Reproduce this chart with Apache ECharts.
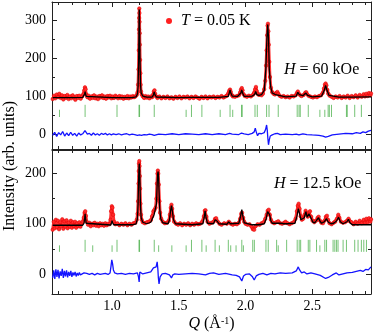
<!DOCTYPE html>
<html>
<head>
    <meta charset="utf-8">
    <title>ECharts</title>
    <script src="https://cdn.jsdelivr.net/npm/echarts@6/dist/echarts.min.js"></script>
    <style type="text/css">
        html, body { margin: 0; padding: 0; background: #fff; }
        #main { width: 374px; height: 333px; }
    </style>
</head>
<body>
<div id="main"></div>
<script type="text/javascript">
    // axis ranges and ticks
    var qMin = 0.55, qMax = 2.94;
    var xMajor = [1.0, 1.5, 2.0, 2.5];
    var xMinor = [0.6, 0.7, 0.8, 0.9, 1.1, 1.2, 1.3, 1.4, 1.6, 1.7, 1.8, 1.9, 2.1, 2.2, 2.3, 2.4, 2.6, 2.7, 2.8, 2.9];
    var yMajorTop = [0, 100, 200, 300];
    var yMinorTop = [50, 150, 250];
    var yMajorBot = [0, 100, 200];
    var yMinorBot = [50, 150];

    // H = 60 kOe : observed, calculated, difference
    var obsTop = [[0.555,92],[0.565,101],[0.575,94],[0.585,104],[0.595,97],[0.605,106],[0.615,95],[0.625,102],[0.635,91],[0.645,100],[0.655,95],[0.665,103],[0.675,92],[0.685,99],[0.695,94],[0.705,102],[0.715,96],[0.725,90],[0.735,100],[0.745,95],[0.755,101],[0.765,93],[0.775,99],[0.785,104],[0.792,115],[0.797,123],[0.802,118],[0.808,104],[0.815,97],[0.825,101],[0.835,93],[0.845,99],[0.855,95],[0.865,102],[0.875,94],[0.885,99],[0.895,92],[0.905,100],[0.915,96],[0.925,102],[0.935,95],[0.945,99],[0.955,93],[0.965,100],[0.975,96],[0.985,101],[0.995,94],[1.005,99],[1.015,95],[1.025,101],[1.035,98],[1.045,94],[1.055,100],[1.065,95],[1.075,99],[1.085,93],[1.095,98],[1.105,95],[1.115,100],[1.125,94],[1.135,99],[1.145,96],[1.155,100],[1.165,97],[1.175,99],[1.185,103],[1.191,110],[1.195,130],[1.198,170],[1.2,220],[1.202,275],[1.203,305],[1.204,330],[1.205,318],[1.206,295],[1.207,265],[1.208,235],[1.21,195],[1.212,160],[1.214,130],[1.217,112],[1.222,104],[1.23,99],[1.24,95],[1.25,100],[1.26,96],[1.27,99],[1.28,94],[1.29,99],[1.3,97],[1.308,104],[1.313,112],[1.318,115],[1.323,106],[1.33,99],[1.34,95],[1.355,99],[1.37,94],[1.385,98],[1.4,95],[1.415,99],[1.43,94],[1.445,97],[1.46,93],[1.475,98],[1.49,95],[1.505,99],[1.52,94],[1.535,98],[1.55,96],[1.565,99],[1.58,94],[1.595,98],[1.61,95],[1.625,99],[1.64,96],[1.655,93],[1.67,98],[1.685,95],[1.7,99],[1.715,94],[1.73,98],[1.745,96],[1.76,99],[1.775,95],[1.79,98],[1.805,96],[1.82,100],[1.835,96],[1.85,99],[1.862,101],[1.872,108],[1.878,114],[1.884,117],[1.89,111],[1.897,103],[1.905,99],[1.92,98],[1.935,100],[1.95,102],[1.96,110],[1.966,117],[1.972,121],[1.978,115],[1.985,105],[1.995,100],[2.01,98],[2.025,101],[2.04,99],[2.055,103],[2.065,108],[2.072,118],[2.078,124],[2.084,113],[2.09,106],[2.1,103],[2.11,104],[2.12,102],[2.13,106],[2.14,118],[2.148,140],[2.154,180],[2.158,220],[2.162,260],[2.165,285],[2.168,290],[2.171,270],[2.174,235],[2.178,190],[2.183,150],[2.19,122],[2.2,110],[2.21,106],[2.22,104],[2.23,108],[2.238,111],[2.245,106],[2.255,101],[2.27,98],[2.285,100],[2.3,97],[2.315,99],[2.33,96],[2.345,100],[2.36,99],[2.375,102],[2.385,108],[2.392,112],[2.4,106],[2.41,102],[2.42,100],[2.435,103],[2.448,109],[2.455,110],[2.463,104],[2.475,100],[2.49,98],[2.505,96],[2.52,99],[2.535,97],[2.55,100],[2.565,102],[2.578,108],[2.588,120],[2.595,130],[2.6,133],[2.606,128],[2.613,116],[2.62,106],[2.63,101],[2.645,98],[2.66,95],[2.675,99],[2.69,96],[2.705,100],[2.72,95],[2.735,99],[2.75,96],[2.765,101],[2.78,95],[2.795,100],[2.81,97],[2.825,102],[2.84,96],[2.855,103],[2.87,98],[2.885,105],[2.895,99],[2.905,106],[2.915,100],[2.925,108],[2.935,102],[2.94,107]];
    var calcTop = [[0.555,96],[0.7,96],[0.78,96.5],[0.79,99],[0.795,106],[0.798,112],[0.801,106],[0.806,99],[0.815,96.5],[1.0,96],[1.03,96],[1.037,97],[1.045,96],[1.15,96],[1.18,98],[1.19,105],[1.195,125],[1.199,190],[1.202,280],[1.204,327],[1.206,290],[1.209,200],[1.213,130],[1.218,108],[1.23,100],[1.26,97],[1.3,97],[1.31,103],[1.316,111],[1.322,103],[1.332,97.5],[1.5,96],[1.59,96.5],[1.67,96.5],[1.8,96.5],[1.87,99],[1.878,108],[1.884,116],[1.89,108],[1.9,100],[1.94,99],[1.965,108],[1.972,116],[1.979,107],[1.99,99],[2.05,100],[2.068,104],[2.076,112],[2.084,104],[2.1,102],[2.12,104],[2.14,115],[2.152,170],[2.16,250],[2.166,288],[2.172,255],[2.178,170],[2.188,125],[2.2,108],[2.225,104],[2.238,107],[2.25,102],[2.3,98],[2.38,100],[2.392,110],[2.402,104],[2.43,101],[2.452,108],[2.465,102],[2.5,98],[2.57,100],[2.59,115],[2.6,128],[2.61,115],[2.625,102],[2.7,97],[2.8,97],[2.94,98]];
    var diffTop = [[0.555,-3],[0.57,5],[0.585,-6],[0.6,4],[0.615,-2],[0.63,7],[0.645,-5],[0.66,3],[0.675,-4],[0.69,5],[0.705,-3],[0.72,2],[0.735,-5],[0.75,3],[0.765,-2],[0.78,1],[0.79,4],[0.797,9],[0.805,5],[0.815,0],[0.83,2],[0.845,-3],[0.86,3],[0.875,-2],[0.89,1],[0.905,-3],[0.92,2],[0.935,-1],[0.95,2],[0.965,-2],[0.98,1],[0.995,-2],[1.01,1],[1.03,-1],[1.05,1],[1.07,-2],[1.09,0],[1.11,1],[1.13,-2],[1.15,0],[1.17,-1],[1.19,-3],[1.2,-5],[1.205,-2],[1.21,-6],[1.22,-3],[1.24,-1],[1.26,-2],[1.28,0],[1.3,-1],[1.316,-3],[1.33,-1],[1.35,0],[1.4,-1],[1.45,1],[1.5,-1],[1.55,1],[1.6,0],[1.65,-1],[1.7,1],[1.75,-1],[1.8,1],[1.85,-1],[1.88,2],[1.9,0],[1.95,-1],[1.97,3],[1.99,1],[2.02,-1],[2.05,2],[2.065,6],[2.073,16],[2.08,6],[2.09,-4],[2.1,2],[2.12,1],[2.14,4],[2.15,12],[2.158,24],[2.163,10],[2.167,-10],[2.172,-28],[2.178,-15],[2.185,-5],[2.2,-2],[2.22,1],[2.24,2],[2.26,-1],[2.3,0],[2.35,-1],[2.38,0],[2.4,-2],[2.43,1],[2.46,-1],[2.5,-2],[2.55,-3],[2.58,-5],[2.6,-8],[2.62,-6],[2.65,-2],[2.7,0],[2.75,2],[2.8,1],[2.83,4],[2.86,2],[2.88,6],[2.9,4],[2.92,8],[2.94,10]];
    var braggTopLong = [0.798,1.037,1.202,1.206,1.316,1.595,1.673,1.884,1.97,1.975,2.071,2.088,2.158,2.176,2.245,2.387,2.401,2.41,2.47,2.619,2.628,2.644,2.756,2.762,2.818,2.868];
    var braggTopShort = [0.606,1.555,1.81,1.904,2.557,2.594];

    // H = 12.5 kOe : observed, calculated, difference
    var obsBot = [[0.555,88],[0.563,104],[0.571,91],[0.579,108],[0.587,93],[0.595,106],[0.603,89],[0.611,103],[0.619,95],[0.627,109],[0.635,90],[0.643,105],[0.651,94],[0.659,107],[0.667,91],[0.675,102],[0.683,94],[0.691,106],[0.699,92],[0.707,103],[0.715,95],[0.723,104],[0.731,92],[0.739,101],[0.747,95],[0.755,103],[0.763,94],[0.771,100],[0.78,104],[0.788,112],[0.794,122],[0.799,125],[0.804,116],[0.81,104],[0.82,98],[0.83,102],[0.84,95],[0.85,100],[0.86,97],[0.87,102],[0.88,96],[0.89,100],[0.9,95],[0.91,101],[0.92,97],[0.93,100],[0.94,96],[0.95,101],[0.96,97],[0.97,100],[0.98,99],[0.988,108],[0.993,125],[0.998,135],[1.003,132],[1.008,118],[1.015,104],[1.025,99],[1.04,101],[1.055,97],[1.07,100],[1.085,98],[1.1,101],[1.115,97],[1.13,100],[1.145,98],[1.16,101],[1.175,102],[1.185,108],[1.191,120],[1.195,145],[1.198,180],[1.2,205],[1.202,220],[1.204,225],[1.206,215],[1.208,195],[1.21,170],[1.213,140],[1.217,118],[1.222,108],[1.23,103],[1.245,101],[1.26,103],[1.275,104],[1.29,107],[1.3,115],[1.31,125],[1.318,128],[1.326,132],[1.332,150],[1.336,180],[1.34,200],[1.343,206],[1.346,200],[1.35,178],[1.355,145],[1.36,122],[1.368,110],[1.38,104],[1.395,101],[1.41,102],[1.425,106],[1.433,118],[1.44,132],[1.445,138],[1.45,130],[1.456,115],[1.465,104],[1.48,100],[1.495,98],[1.51,101],[1.525,97],[1.54,100],[1.555,98],[1.57,101],[1.585,97],[1.6,100],[1.615,98],[1.63,101],[1.645,99],[1.66,100],[1.675,104],[1.688,115],[1.695,126],[1.7,127],[1.707,114],[1.715,104],[1.73,100],[1.745,102],[1.76,104],[1.772,110],[1.78,111],[1.79,105],[1.805,100],[1.82,98],[1.84,101],[1.86,100],[1.875,104],[1.89,100],[1.905,98],[1.92,100],[1.935,99],[1.95,102],[1.96,110],[1.968,120],[1.974,122],[1.982,112],[1.99,104],[2.0,100],[2.015,98],[2.03,99],[2.045,94],[2.055,89],[2.065,88],[2.075,95],[2.09,99],[2.105,98],[2.12,101],[2.135,103],[2.148,110],[2.158,118],[2.166,126],[2.174,128],[2.182,118],[2.19,108],[2.2,103],[2.215,101],[2.23,103],[2.245,105],[2.26,101],[2.275,100],[2.29,102],[2.3,104],[2.315,101],[2.33,99],[2.345,101],[2.36,103],[2.375,110],[2.385,125],[2.392,136],[2.398,140],[2.405,130],[2.413,115],[2.422,108],[2.432,110],[2.442,118],[2.45,126],[2.458,120],[2.466,114],[2.475,122],[2.483,125],[2.492,114],[2.502,106],[2.515,103],[2.528,106],[2.54,112],[2.548,114],[2.556,107],[2.568,102],[2.58,101],[2.592,106],[2.602,114],[2.61,116],[2.618,108],[2.63,101],[2.645,99],[2.66,102],[2.672,104],[2.685,110],[2.695,118],[2.703,112],[2.715,104],[2.73,102],[2.745,103],[2.76,106],[2.772,110],[2.782,105],[2.795,103],[2.81,99],[2.825,104],[2.84,100],[2.855,106],[2.87,101],[2.885,108],[2.895,102],[2.905,110],[2.915,103],[2.925,111],[2.935,104],[2.94,109]];
    var calcBot = [[0.555,97],[0.78,97],[0.79,101],[0.795,112],[0.798,120],[0.801,112],[0.806,101],[0.815,97.5],[0.99,97.5],[0.996,102],[1.0,106],[1.004,102],[1.012,98],[1.15,98],[1.18,100],[1.19,110],[1.195,140],[1.199,190],[1.202,212],[1.204,220],[1.206,212],[1.209,180],[1.213,135],[1.218,112],[1.23,103],[1.26,100],[1.29,103],[1.305,112],[1.315,118],[1.325,120],[1.333,140],[1.338,180],[1.342,200],[1.345,204],[1.348,195],[1.352,165],[1.357,130],[1.365,110],[1.38,102],[1.42,100],[1.43,108],[1.438,125],[1.445,136],[1.452,125],[1.46,108],[1.475,100],[1.6,98],[1.68,100],[1.69,112],[1.697,126],[1.704,112],[1.715,101],[1.76,100],[1.772,108],[1.78,111],[1.788,105],[1.8,100],[1.86,99],[1.875,104],[1.885,100],[1.95,101],[1.963,115],[1.972,128],[1.98,115],[1.99,102],[2.05,98],[2.1,98],[2.14,100],[2.155,110],[2.165,124],[2.172,127],[2.18,118],[2.19,106],[2.2,101],[2.24,101],[2.25,104],[2.26,101],[2.29,100],[2.3,103],[2.31,100],[2.37,101],[2.385,115],[2.396,130],[2.405,120],[2.415,108],[2.425,106],[2.44,112],[2.452,124],[2.462,113],[2.475,120],[2.484,122],[2.493,110],[2.505,103],[2.52,102],[2.535,108],[2.547,112],[2.558,105],[2.57,101],[2.59,104],[2.607,110],[2.62,103],[2.64,100],[2.66,101],[2.68,105],[2.697,113],[2.71,104],[2.73,100],[2.76,104],[2.771,109],[2.782,102],[2.8,98],[2.94,98]];
    var diffBot = [[0.555,-8],[0.563,7],[0.571,-10],[0.579,9],[0.587,-6],[0.595,8],[0.603,-9],[0.611,5],[0.619,-4],[0.627,10],[0.635,-8],[0.643,6],[0.651,-5],[0.659,7],[0.667,-7],[0.675,4],[0.683,-4],[0.691,6],[0.699,-6],[0.707,3],[0.715,-3],[0.723,4],[0.731,-5],[0.739,2],[0.747,-3],[0.755,3],[0.763,-2],[0.775,1],[0.79,2],[0.8,5],[0.81,1],[0.83,-1],[0.85,1],[0.87,-2],[0.89,1],[0.91,-1],[0.93,0],[0.95,1],[0.97,-1],[0.985,2],[0.992,15],[0.998,28],[1.004,20],[1.01,8],[1.02,2],[1.04,0],[1.07,1],[1.1,-1],[1.13,1],[1.16,0],[1.19,2],[1.198,-6],[1.203,-16],[1.208,4],[1.215,2],[1.23,0],[1.26,2],[1.29,4],[1.31,12],[1.32,9],[1.33,14],[1.338,24],[1.343,10],[1.347,-8],[1.352,-20],[1.36,-6],[1.375,0],[1.4,1],[1.43,-2],[1.445,-8],[1.455,-2],[1.47,0],[1.5,-1],[1.55,0],[1.6,1],[1.65,0],[1.7,-2],[1.73,1],[1.76,2],[1.8,-1],[1.85,1],[1.9,-2],[1.93,-3],[1.955,-6],[1.972,-14],[1.985,-4],[2.0,-1],[2.03,0],[2.05,-5],[2.065,-12],[2.08,-4],[2.1,-1],[2.13,1],[2.16,-2],[2.19,1],[2.22,0],[2.26,2],[2.3,1],[2.35,2],[2.38,6],[2.395,14],[2.405,8],[2.42,2],[2.44,4],[2.46,0],[2.49,2],[2.52,0],[2.56,-3],[2.6,-9],[2.62,-7],[2.65,-2],[2.68,2],[2.7,-2],[2.73,0],[2.76,2],[2.8,3],[2.83,5],[2.86,7],[2.88,5],[2.9,9],[2.92,8],[2.94,14]];
    var braggBotLong = [0.798,1.037,1.202,1.206,1.316,1.595,1.673,1.772,1.871,1.972,2.054,2.066,2.153,2.17,2.233,2.308,2.387,2.402,2.413,2.47,2.482,2.532,2.594,2.607,2.656,2.669,2.682,2.693,2.731,2.756,2.818,2.843,2.868,2.886,2.906];
    var braggBotShort = [0.606,0.855,1.0,1.349,1.448,1.555,1.705,1.804,1.889,1.929,1.984,2.245,2.557];

    var FONT = 'Liberation Serif';
    var AX = '#222';

    function braggData(longList, shortList, lo, hiLong, hiShort) {
        var out = [];
        longList.forEach(function (q) { out.push([q, lo, hiLong]); });
        shortList.forEach(function (q) { out.push([q, lo, hiShort]); });
        return out;
    }

    function xAxes(g, labels) {
        var base = {gridIndex: g, type: 'value', min: qMin, max: qMax, splitLine: {show: false}};
        function mk(pos, ticks, len, line, lab) {
            return Object.assign({}, base, {
                position: pos,
                axisLine: {show: line, onZero: false, lineStyle: {color: AX, width: 1}},
                axisTick: {show: true, inside: true, length: len, customValues: ticks, lineStyle: {color: AX}},
                axisLabel: {show: lab, customValues: xMajor, margin: 5, color: '#000', fontFamily: FONT, fontSize: 14,
                    formatter: function (v) { return v.toFixed(1); }}
            });
        }
        var main = mk('bottom', xMajor, 5, true, labels);
        if (labels) {
            main.name = '{i|Q} (Å{s|-1})';
            main.nameLocation = 'middle';
            main.nameGap = 22;
            main.nameTextStyle = {color: '#000', fontFamily: FONT, fontSize: 16,
                rich: {i: {fontStyle: 'italic', fontFamily: FONT, fontSize: 16},
                       s: {fontFamily: FONT, fontSize: 10, verticalAlign: 'top', lineHeight: 16}}};
        }
        return [main, mk('bottom', xMinor, 3, false, false), mk('top', xMajor, 5, true, false), mk('top', xMinor, 3, false, false)];
    }

    function yAxes(g, min, max, major, minor) {
        var base = {gridIndex: g, type: 'value', min: min, max: max, splitLine: {show: false}};
        function mk(pos, ticks, len, line, lab) {
            return Object.assign({}, base, {
                position: pos,
                axisLine: {show: line, onZero: false, lineStyle: {color: AX, width: 1}},
                axisTick: {show: true, inside: true, length: len, customValues: ticks, lineStyle: {color: AX}},
                axisLabel: {show: lab, customValues: major, margin: 6, color: '#000', fontFamily: FONT, fontSize: 14}
            });
        }
        return [mk('left', major, 5, true, true), mk('left', minor, 3, false, false), mk('right', major, 5, true, false), mk('right', minor, 3, false, false)];
    }

    function braggSeries(xi, yi, data) {
        return {
            type: 'custom', xAxisIndex: xi, yAxisIndex: yi, silent: true, z: 3,
            encode: {x: 0, y: [1, 2]},
            data: data,
            renderItem: function (params, api) {
                var a = api.coord([api.value(0), api.value(1)]);
                var b = api.coord([api.value(0), api.value(2)]);
                return {type: 'line', shape: {x1: a[0], y1: a[1], x2: b[0], y2: b[1]},
                    style: {stroke: 'rgba(60,170,60,0.7)', lineWidth: 1}};
            }
        };
    }

    function panelSeries(xi, yi, obs, calc, diff, bragg, withName) {
        return [
            {name: withName ? 'obs' : 'obs2', type: 'line', xAxisIndex: xi, yAxisIndex: yi, data: obs, z: 2,
                symbol: 'circle', symbolSize: 3.5, showAllSymbol: true,
                itemStyle: {color: '#ff2a2a', borderColor: '#e00000', borderWidth: 0.5},
                lineStyle: {color: '#ff3030', width: 3}},
            {type: 'line', xAxisIndex: xi, yAxisIndex: yi, data: calc, z: 4, symbol: 'none',
                lineStyle: {color: '#000', width: 1.3}},
            {type: 'line', xAxisIndex: xi, yAxisIndex: yi, data: diff, z: 4, symbol: 'none',
                lineStyle: {color: '#1414ff', width: 1.3}},
            braggSeries(xi, yi, bragg)
        ];
    }

    var chart = echarts.init(document.getElementById('main'));
    chart.setOption({
        animation: false,
        grid: [
            {left: 52, top: 2, width: 319, height: 147},
            {left: 52, top: 150, width: 319, height: 147}
        ],
        xAxis: xAxes(0, false).concat(xAxes(1, true)),
        yAxis: yAxes(0, -39, 347, yMajorTop, yMinorTop).concat(yAxes(1, -40, 247, yMajorBot, yMinorBot)),
        legend: {
            left: 161, top: 8, itemWidth: 6, itemHeight: 6, itemGap: 0,
            data: [{name: 'obs', icon: 'circle', itemStyle: {color: '#ff2020', borderWidth: 0}}],
            formatter: function () { return '{i|T} = 0.05 K'; },
            textStyle: {color: '#000', fontFamily: FONT, fontSize: 16, padding: [0, 0, 0, 4],
                rich: {i: {fontStyle: 'italic', fontFamily: FONT, fontSize: 16}}}
        },
        graphic: [
            {type: 'text', x: 10, y: 166, rotation: Math.PI / 2,
                style: {text: 'Intensity (arb. units)', font: '16px "Liberation Serif"', fill: '#000',
                    align: 'center', verticalAlign: 'middle'}},
            {type: 'text', x: 284, y: 70,
                style: {text: '{i|H} = 60 kOe', font: '16px "Liberation Serif"', fill: '#000', verticalAlign: 'middle',
                    rich: {i: {fontStyle: 'italic', font: 'italic 16px "Liberation Serif"'}}}},
            {type: 'text', x: 274, y: 184,
                style: {text: '{i|H} = 12.5 kOe', font: '16px "Liberation Serif"', fill: '#000', verticalAlign: 'middle',
                    rich: {i: {fontStyle: 'italic', font: 'italic 16px "Liberation Serif"'}}}}
        ],
        series: panelSeries(0, 0, obsTop, calcTop, diffTop, braggData(braggTopLong, braggTopShort, 45, 77, 64), true)
            .concat(panelSeries(4, 4, obsBot, calcBot, diffBot, braggData(braggBotLong, braggBotShort, 44, 68, 57), false))
    });
</script>
</body>
</html>
